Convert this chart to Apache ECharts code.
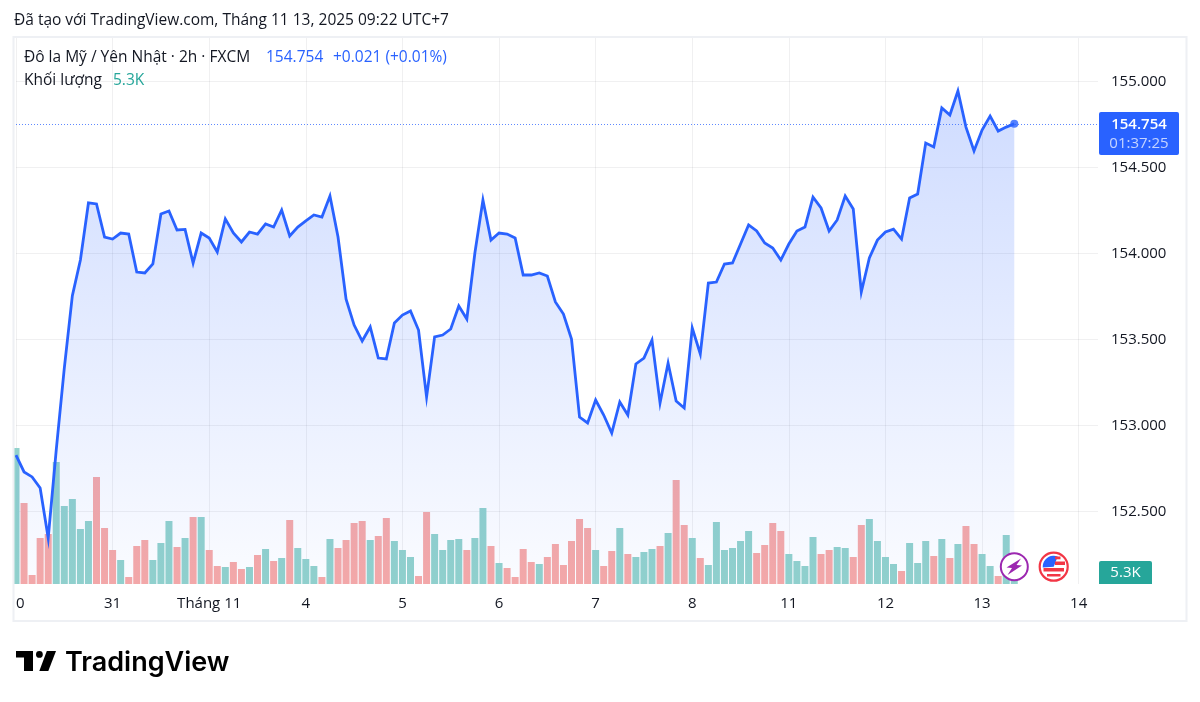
<!DOCTYPE html>
<html>
<head>
<meta charset="utf-8">
<title>USD/JPY</title>
<style>
  html, body { margin: 0; padding: 0; background: #fff; }
  #chart { width: 1200px; height: 702px; }
</style>
<script src="https://cdn.jsdelivr.net/npm/echarts@6/dist/echarts.min.js"></script>
</head>
<body>
<div id="chart"></div>
<script>
// 2h closes
var prices = [
  152.828, 152.730, 152.701, 152.637, 152.346, 152.858, 153.334, 153.755, 153.962, 154.294, 154.288, 154.096,
  154.084, 154.119, 154.113, 153.892, 153.887, 153.939, 154.230, 154.247, 154.137, 154.140, 153.945, 154.119,
  154.090, 154.009, 154.201, 154.119, 154.067, 154.125, 154.113, 154.172, 154.154, 154.253, 154.102, 154.154,
  154.189, 154.224, 154.212, 154.334, 154.096, 153.735, 153.584, 153.491, 153.573, 153.392, 153.387, 153.596,
  153.642, 153.666, 153.555, 153.166, 153.515, 153.526, 153.561, 153.695, 153.619, 154.003, 154.311, 154.078,
  154.119, 154.113, 154.090, 153.875, 153.875, 153.887, 153.869, 153.718, 153.648, 153.503, 153.049, 153.015,
  153.148, 153.061, 152.956, 153.137, 153.061, 153.358, 153.392, 153.497, 153.131, 153.363, 153.142, 153.102,
  153.567, 153.416, 153.828, 153.834, 153.939, 153.945, 154.055, 154.166, 154.131, 154.061, 154.032, 153.962,
  154.055, 154.131, 154.154, 154.328, 154.265, 154.131, 154.195, 154.334, 154.259, 153.776, 153.974, 154.078,
  154.125, 154.142, 154.084, 154.323, 154.346, 154.642, 154.619, 154.846, 154.805, 154.945, 154.735, 154.596,
  154.718, 154.799, 154.712, 154.735, 154.754
];
// volume in thousands
var volumes = [
  68, 40.5, 4.5, 23, 25, 61, 39, 42.5, 27.5, 31.5, 53.5, 28,
  17, 12, 3.5, 19, 22, 12, 20.5, 31.5, 18.5, 23, 33.5, 33.5,
  17, 9, 8.5, 11, 7.5, 8.5, 14.5, 17.5, 11.5, 13, 32, 18,
  12.5, 9, 3.5, 22.5, 18, 22, 30.5, 31.5, 22, 24, 33, 21.5,
  17, 13.5, 4, 36, 25, 17, 22, 22.5, 17, 23, 38, 19,
  10.5, 8, 3.5, 17.5, 11, 10, 13.5, 20, 9.5, 21.5, 32.5, 28,
  17, 9, 16.5, 28, 15, 13.5, 16, 17.5, 19, 25.5, 52, 29.5,
  23, 13, 9.5, 31, 17, 18, 21.5, 26.5, 15.5, 19.5, 30.5, 26.5,
  15, 11.5, 9, 23.5, 15, 17, 18.5, 18, 13.5, 29.5, 32.5, 21.5,
  13.5, 10, 6.5, 20.5, 10.5, 21.5, 14, 22.5, 13, 20, 29, 20,
  15, 9, 4, 24.5, 5.3
];
// 1 = green volume bar, 0 = red
var volumeUp = [
  1, 0, 0, 0, 0, 1, 1, 1, 1, 1, 0, 0,
  0, 1, 0, 0, 0, 1, 1, 1, 0, 1, 0, 1,
  0, 0, 1, 0, 0, 1, 0, 1, 0, 1, 0, 1,
  1, 1, 0, 1, 0, 0, 0, 0, 1, 0, 0, 1,
  1, 1, 0, 0, 1, 1, 1, 1, 0, 1, 1, 0,
  1, 0, 0, 0, 0, 1, 0, 0, 0, 0, 0, 0,
  1, 0, 0, 1, 0, 1, 1, 1, 0, 1, 0, 0,
  1, 0, 1, 1, 1, 1, 1, 1, 0, 0, 0, 0,
  1, 1, 1, 1, 0, 0, 1, 1, 0, 0, 1, 1,
  1, 1, 0, 1, 1, 1, 0, 1, 0, 1, 0, 0,
  1, 1, 0, 1, 1
];
var dayLabels = ['30', '31', 'Tháng 11', '4', '5', '6', '7', '8', '11', '12', '13', '14'];
var lastPrice = prices[prices.length - 1];
var lastChange = '+0.021 (+0.01%)';
var lastVolume = '5.3K';
var paneBottomPrice = 152.0785; // price at the bottom edge of the pane

var FONT = '"Open Sans", sans-serif';
var BLUE = '#2962FF';
var TEAL = '#26A69A';
var INK = '#131722';
var GRID = 'rgba(42,46,57,0.07)';

function label(x, y, text, color, opt) {
  return {
    type: 'text', x: x, y: y, z: 110, silent: true,
    style: Object.assign({
      text: text, fill: color, font: '15.5px ' + FONT, textAlign: 'left', textVerticalAlign: 'middle'
    }, opt || {})
  };
}

var chart = echarts.init(document.getElementById('chart'), null, { renderer: 'canvas' });

chart.setOption({
  animation: false,
  backgroundColor: '#fff',
  textStyle: { fontFamily: FONT },
  // grid 0: the pane with the time axis and volume, grid 1: price scale
  // (its axis starts at 152, a little below the pane, so ticks land on .000/.500)
  grid: [
    { left: 16, width: 1082, top: 37, height: 547 },
    { left: 16, width: 1082, top: 38.5, height: 559 }
  ],
  xAxis: [{
    type: 'value',
    gridIndex: 0,
    min: 0,
    max: 134.4,
    interval: 12,
    axisLine: { show: false },
    axisTick: { show: false },
    axisLabel: {
      color: INK, fontSize: 15, fontFamily: FONT, margin: 12, showMaxLabel: false,
      formatter: function (v) { return dayLabels[v / 12] || ''; }
    },
    splitLine: { show: true, showMaxLine: false, lineStyle: { color: GRID, width: 1 } }
  }, {
    type: 'value',
    gridIndex: 1,
    min: 0,
    max: 134.4,
    show: false
  }],
  yAxis: [{
    type: 'value',
    gridIndex: 0,
    min: 0,
    max: 273.5,
    show: false
  }, {
    type: 'value',
    gridIndex: 1,
    position: 'right',
    min: 152,
    max: 155.25,
    interval: 0.5,
    axisLine: { show: false },
    axisTick: { show: false },
    axisLabel: {
      color: INK, fontSize: 15, fontFamily: FONT, margin: 13, padding: [3, 0, 0, 0], showMinLabel: false, showMaxLabel: false,
      formatter: function (v) { return v.toFixed(3); }
    },
    splitLine: { show: true, showMinLine: false, showMaxLine: false, lineStyle: { color: GRID, width: 1 } }
  }],
  series: [{
    name: 'Khối lượng',
    type: 'bar',
    xAxisIndex: 0,
    yAxisIndex: 0,
    barWidth: 7,
    clip: false,
    z: 1,
    data: volumes.map(function (v, i) {
      return {
        value: [i, v],
        itemStyle: { color: volumeUp[i] ? '#92D2CC' : '#F7A9A7' }
      };
    })
  }, {
    name: 'USD/JPY',
    type: 'line',
    xAxisIndex: 1,
    yAxisIndex: 1,
    z: 2,
    symbol: 'none',
    lineStyle: { color: BLUE, width: 2.8, join: 'miter' },
    areaStyle: {
      origin: paneBottomPrice,
      color: {
        type: 'linear', x: 0, y: 0, x2: 0, y2: 1,
        colorStops: [
          { offset: 0, color: 'rgba(41,98,255,0.32)' },
          { offset: 1, color: 'rgba(41,98,255,0.03)' }
        ]
      }
    },
    data: prices.map(function (p, i) { return [i, p]; }),
    markLine: {
      silent: true,
      symbol: 'none',
      label: { show: false },
      lineStyle: { color: BLUE, type: [1, 2], width: 1, opacity: 0.75 },
      data: [{ yAxis: lastPrice }]
    }
  }, {
    name: 'last',
    type: 'scatter',
    xAxisIndex: 1,
    yAxisIndex: 1,
    z: 3,
    symbolSize: 8,
    itemStyle: { color: BLUE },
    data: [[prices.length - 1, lastPrice]]
  }],
  graphic: [
    // left margin + frame, the first day label is cut off by the pane edge
    { type: 'rect', z: 100, silent: true, shape: { x: 0, y: 30, width: 13.5, height: 600 }, style: { fill: '#fff' } },
    { type: 'rect', z: 100, silent: true, shape: { x: 13, y: 590, width: 3, height: 26 }, style: { fill: '#fff' } },
    { type: 'rect', z: 101, silent: true, shape: { x: 13.5, y: 37, width: 1173, height: 584 }, style: { fill: 'none', stroke: '#EEF0F4', lineWidth: 2 } },

    label(14, 21, 'Đã tạo với TradingView.com, Tháng 11 13, 2025 09:22 UTC+7', INK),
    label(24, 58, 'Đô la Mỹ / Yên Nhật · 2h · FXCM', INK),
    label(266, 58, lastPrice.toFixed(3), BLUE),
    label(333, 58, lastChange, BLUE),
    label(24, 81, 'Khối lượng', INK),
    label(113, 81, lastVolume, TEAL),

    // price tag
    { type: 'rect', z: 105, silent: true, shape: { x: 1099, y: 112, width: 80, height: 43, r: 2 }, style: { fill: BLUE } },
    label(1139, 125, lastPrice.toFixed(3), '#fff', { textAlign: 'center', font: '600 15px ' + FONT }),
    label(1139, 144, '01:37:25', 'rgba(255,255,255,0.72)', { textAlign: 'center', font: '15px ' + FONT }),

    // volume tag
    { type: 'rect', z: 105, silent: true, shape: { x: 1099, y: 561, width: 53, height: 23, r: [2, 2, 0, 0] }, style: { fill: TEAL } },
    label(1125.5, 573, lastVolume, '#fff', { textAlign: 'center', font: '15px ' + FONT }),

    // lightning badge
    { type: 'circle', z: 105, silent: true, shape: { cx: 1014.3, cy: 566.7, r: 13.5 }, style: { fill: '#fff', stroke: '#9C27B0', lineWidth: 2 } },
    { type: 'polygon', z: 106, silent: true, shape: { points: [[1021, 558.5], [1006.5, 567.5], [1012, 568], [1007.5, 575], [1022, 565.5], [1016.5, 565]] }, style: { fill: '#9C27B0' } },

    // flag badge
    { type: 'circle', z: 105, silent: true, shape: { cx: 1053.7, cy: 566.7, r: 14 }, style: { fill: '#fff', stroke: '#F23645', lineWidth: 2.2 } },
    { type: 'sector', z: 106, silent: true, shape: { cx: 1053.7, cy: 566.7, r: 11, startAngle: Math.PI * 0.98, endAngle: Math.PI * 1.62 }, style: { fill: BLUE } },
    { type: 'rect', z: 106, silent: true, shape: { x: 1055, y: 556.5, width: 5.5, height: 2.8 }, style: { fill: '#F23645' } },
    { type: 'rect', z: 106, silent: true, shape: { x: 1055, y: 561.5, width: 10, height: 3.5 }, style: { fill: '#F23645' } },
    { type: 'rect', z: 106, silent: true, shape: { x: 1043.5, y: 568, width: 20.5, height: 3.5 }, style: { fill: '#F23645' } },
    { type: 'rect', z: 106, silent: true, shape: { x: 1047, y: 574, width: 13.5, height: 2.5 }, style: { fill: '#F23645' } },

    // logo
    { type: 'polygon', z: 105, silent: true, shape: { points: [[16, 651], [33, 651], [33, 671], [24, 671], [24, 657.5], [16, 657.5]] }, style: { fill: '#000' } },
    { type: 'circle', z: 105, silent: true, shape: { cx: 39.4, cy: 654.4, r: 3.4 }, style: { fill: '#000' } },
    { type: 'polygon', z: 105, silent: true, shape: { points: [[46.8, 651], [56, 651], [48.3, 671], [39.3, 671]] }, style: { fill: '#000' } },
    label(65, 663, 'TradingView', '#000', { font: '600 27px Inter, sans-serif' })
  ]
});
</script>
</body>
</html>
